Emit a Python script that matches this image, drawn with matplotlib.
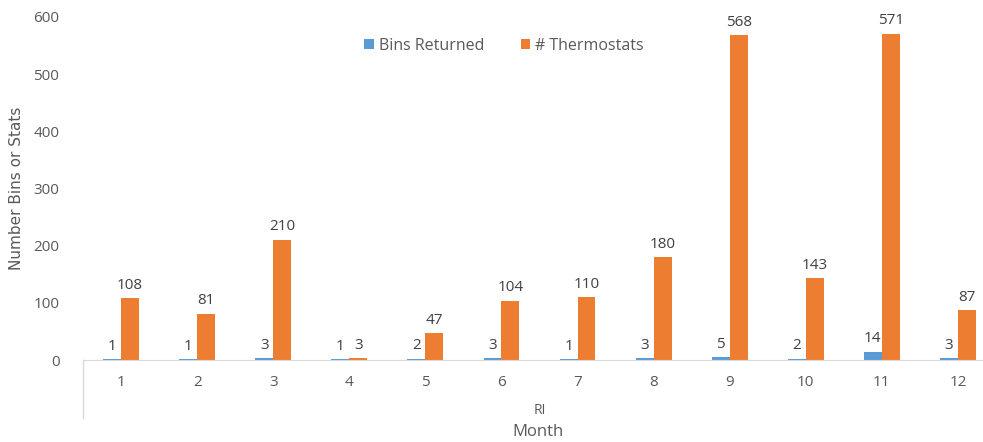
import matplotlib.pyplot as plt
import numpy as np

months = ['1', '2', '3', '4', '5', '6', '7', '8', '9', '10', '11', '12']
bins_returned = [1, 1, 3, 1, 2, 3, 1, 3, 5, 2, 14, 3]
thermostats = [108, 81, 210, 3, 47, 104, 110, 180, 568, 143, 571, 87]
group_label = 'RI'

blue = '#5B9BD5'
orange = '#ED7D31'
grey = '#595959'

plt.rcParams['font.family'] = ['Open Sans', 'DejaVu Sans']

fig = plt.figure(figsize=(9.83, 4.42), dpi=100)
ax = fig.add_axes([83 / 983, 1 - 360 / 442, 913 / 983, 343 / 442])

x = np.arange(len(months))
w = 0.236
b1 = ax.bar(x - w / 2, bins_returned, w, color=blue, label='Bins Returned')
b2 = ax.bar(x + w / 2, thermostats, w, color=orange, label='# Thermostats')

for bars, vals in ((b1, bins_returned), (b2, thermostats)):
    for r, v in zip(bars, vals):
        ax.annotate(str(v), (r.get_x() + r.get_width() / 2, r.get_height()),
                    xytext=(0, 4), textcoords='offset points',
                    ha='center', va='bottom', fontsize=11, color='#404040')

ax.set_xlim(-0.5, len(months) - 0.5)
ax.set_ylim(0, 600)
ax.set_yticks(range(0, 601, 100))
ax.set_xticks(x)
ax.set_xticklabels(months)
ax.tick_params(axis='both', length=0, labelsize=11, colors=grey)
ax.tick_params(axis='x', pad=11)
ax.tick_params(axis='y', pad=17)

for s in ('top', 'right', 'left'):
    ax.spines[s].set_visible(False)
ax.spines['bottom'].set_color('#D9D9D9')

# outer category level: divider line and group name
ax.plot([0, 0], [0, -58 / 343], transform=ax.transAxes, color='#D9D9D9',
        lw=1, clip_on=False)
ax.plot([1, 1], [0, -58 / 343], transform=ax.transAxes, color='#D9D9D9',
        lw=1, clip_on=False)
ax.text(0.5, -50 / 343, group_label, transform=ax.transAxes, ha='center',
        va='center', fontsize=10, color=grey)
fig.text(538 / 983, 1 - 432 / 442, 'Month', ha='center', va='center',
         fontsize=12, color=grey)

fig.text(17 / 983, 1 - 188 / 442, 'Number Bins or Stats', rotation=90,
         ha='center', va='center', fontsize=11, color=grey,
         family=['Liberation Sans Narrow', 'DejaVu Sans'])

ax.legend(loc='center', bbox_to_anchor=(504 / 983, 1 - 46 / 442),
          bbox_transform=fig.transFigure, ncol=2, frameon=False,
          fontsize=11.5, handlelength=0.6, handleheight=0.6,
          columnspacing=2.3, handletextpad=0.3, labelcolor=grey)

fig.savefig('out.png', dpi=100)
